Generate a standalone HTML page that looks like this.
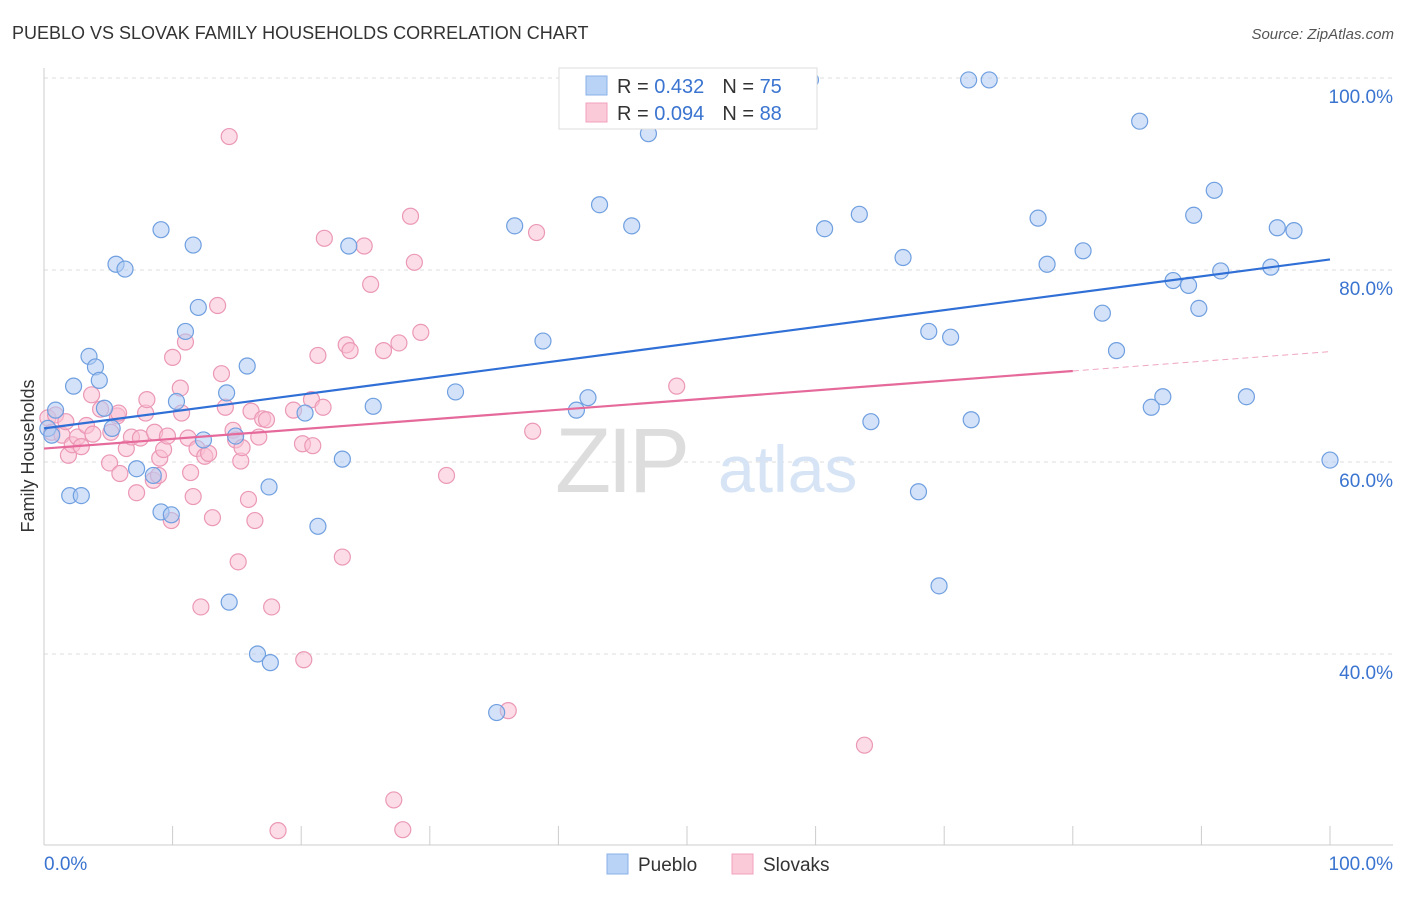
<!DOCTYPE html>
<html><head><meta charset="utf-8"><style>
body{margin:0;background:#fff;font-family:"Liberation Sans",sans-serif;}
svg text{font-family:"Liberation Sans",sans-serif;}
</style></head><body>
<svg id="chart" width="1406" height="892" viewBox="0 0 1406 892" xmlns="http://www.w3.org/2000/svg">
<text x="12" y="39" font-size="18" fill="#333">PUEBLO VS SLOVAK FAMILY HOUSEHOLDS CORRELATION CHART</text>
<text x="1394" y="39" font-size="15" fill="#555" font-style="italic" text-anchor="end">Source: ZipAtlas.com</text>
<g id="grid"></g>
<text x="555" y="492" font-size="92" fill="#ddd" font-family="Liberation Serif" letter-spacing="-4">ZIP</text>
<text x="718" y="492" font-size="66" fill="#d6e4f5">atlas</text>
<g id="axes"></g>
<g id="marks"></g>
<text transform="translate(34,456) rotate(-90)" font-size="18" fill="#333" text-anchor="middle">Family Households</text>
<g>
<rect x="559" y="68" width="258" height="61" fill="#fff" stroke="#ddd"/>
<rect x="586" y="76" width="21" height="19" fill="#b8d3f5" stroke="#8ab2e8"/>
<text x="617" y="93" font-size="20" fill="#333">R = <tspan fill="#3a74d0">0.432</tspan><tspan dx="18">N = </tspan><tspan fill="#3a74d0">75</tspan></text>
<rect x="586" y="103" width="21" height="19" fill="#fbcad9" stroke="#f0a0bc"/>
<text x="617" y="120" font-size="20" fill="#333">R = <tspan fill="#3a74d0">0.094</tspan><tspan dx="18">N = </tspan><tspan fill="#3a74d0">88</tspan></text>
</g>
<g>
<rect x="607" y="854" width="21" height="20" fill="#b8d3f5" stroke="#8ab2e8"/>
<text x="638" y="871" font-size="19" fill="#333">Pueblo</text>
<rect x="732" y="854" width="21" height="20" fill="#fbcad9" stroke="#f0a0bc"/>
<text x="763" y="871" font-size="19" fill="#333">Slovaks</text>
</g>
</svg>
<script>
const puebloX=[0.3,0.9,0.6,2.0,2.9,2.3,3.5,4.0,4.3,4.7,5.3,5.6,6.3,7.2,8.5,9.1,9.1,9.9,10.3,11.0,11.6,12.0,12.4,14.2,14.4,14.9,15.8,16.6,17.6,17.5,20.3,21.3,23.2,23.7,25.6,32.0,35.2,36.6,38.8,41.4,42.3,43.2,45.7,47.0,59.6,60.7,63.4,64.3,66.8,68.0,68.8,69.6,70.5,71.9,72.1,73.5,77.3,78.0,80.8,82.3,83.4,85.2,86.1,87.0,87.8,89.0,89.4,89.8,91.0,91.5,93.5,95.4,95.9,97.2,100.0];
const puebloY=[63.5,65.4,62.8,56.5,56.5,67.9,71.0,69.9,68.5,65.6,63.5,80.6,80.1,59.3,58.6,84.2,54.8,54.5,66.3,73.6,82.6,76.1,62.3,67.2,45.4,62.7,70.0,40.0,39.1,57.4,65.1,53.3,60.3,82.5,65.8,67.3,33.9,84.6,72.6,65.4,66.7,86.8,84.6,94.2,99.8,84.3,85.8,64.2,81.3,56.9,73.6,47.1,73.0,99.8,64.4,99.8,85.4,80.6,82.0,75.5,71.6,95.5,65.7,66.8,78.9,78.4,85.7,76.0,88.3,79.9,66.8,80.3,84.4,84.1,60.2];
const slovakX=[0.3,0.6,0.9,1.4,1.7,1.9,2.2,2.6,2.9,3.3,3.7,3.8,4.4,5.1,5.2,5.7,5.8,5.9,6.4,6.8,7.2,7.5,7.9,8.0,8.5,8.6,8.9,9.0,9.3,9.6,9.9,10.0,10.6,10.7,11.0,11.2,11.4,11.6,11.9,12.2,12.5,12.8,13.1,13.5,13.8,14.1,14.4,14.7,14.9,15.1,15.3,15.4,15.9,16.1,16.4,16.7,17.0,17.3,17.7,18.2,19.4,20.1,20.2,20.8,20.9,21.3,21.7,21.8,23.2,23.5,23.8,24.9,25.4,26.4,27.2,27.6,27.9,28.5,28.8,29.3,31.3,36.1,38.0,38.3,49.2,50.0,51.8,63.8];
const slovakY=[64.6,63.1,64.9,62.8,64.2,60.7,61.8,62.6,61.6,63.8,67.0,62.9,65.5,59.9,63.1,64.8,65.1,58.8,61.4,62.6,56.8,62.5,65.1,66.5,58.1,63.1,58.6,60.4,61.3,62.7,53.9,70.9,67.7,65.1,72.5,62.5,58.9,56.4,61.4,44.9,60.6,60.9,54.2,76.3,69.2,65.7,93.9,63.3,62.3,49.6,60.1,61.5,56.1,65.3,53.9,62.6,64.5,64.4,44.9,21.6,65.4,61.9,39.4,66.5,61.7,71.1,65.7,83.3,50.1,72.2,71.6,82.5,78.5,71.6,24.8,72.4,21.7,85.6,80.8,73.5,58.6,34.1,63.2,83.9,67.9,99.8,99.8,30.5];
const puebloTrend=[63.5,81.1];
const slovakTrend=[61.4,71.5];
const slovakSolidEnd=80;
const yTicks=[100,80,60,40];
const yTickLabels=["100.0%","80.0%","60.0%","40.0%"];
const xTicks=[0,10,20,30,40,50,60,70,80,90,100];

const NS="http://www.w3.org/2000/svg";
const X0=44,X1=1330,YTOP=78,PXPER=9.6;
function sx(v){return X0+(X1-X0)*v/100;}
function sy(v){return YTOP+(100-v)*PXPER;}
function mk(tag,attrs,parent){const e=document.createElementNS(NS,tag);for(const k in attrs)e.setAttribute(k,attrs[k]);parent.appendChild(e);return e;}
const grid=document.getElementById('grid'),axes=document.getElementById('axes'),marks=document.getElementById('marks');
yTicks.forEach((t,i)=>{
  const l=mk('line',{x1:X0,x2:1393,y1:sy(t),y2:sy(t),stroke:'#ddd','stroke-dasharray':'4,4'},grid);
  
  
  const tx=mk('text',{x:1393,y:sy(t)+25,'font-size':19,fill:'#3a74d0','text-anchor':'end'},axes);
  tx.textContent=yTickLabels[i];
  
  
});
let a=mk('line',{x1:X0,x2:X0,y1:68,y2:845,stroke:'#ccc'},axes);


a=mk('line',{x1:X0,x2:1393,y1:845,y2:845,stroke:'#ccc'},axes);


xTicks.forEach(t=>{
  const l=mk('line',{x1:sx(t),x2:sx(t),y1:826,y2:845,stroke:'#ccc'},axes);
  
  
});
let xl=mk('text',{x:X0,y:870,'font-size':19,fill:'#3a74d0'},axes);xl.textContent='0.0%';


xl=mk('text',{x:1393,y:870,'font-size':19,fill:'#3a74d0','text-anchor':'end'},axes);xl.textContent='100.0%';



function pts(xs,ys,fill,stroke,name){
  xs.forEach((x,i)=>{
    const c=mk('circle',{cx:sx(x),cy:sy(ys[i]),r:8,fill:fill,'fill-opacity':0.55,stroke:stroke,'stroke-width':1.2},marks);
    
    
  });
}
pts(slovakX,slovakY,'#f9c0d2','#eb98b6','slovaks-point');
pts(puebloX,puebloY,'#aecbf2','#6f9fe0','pueblo-point');
let tl=mk('line',{x1:sx(0),y1:sy(puebloTrend[0]),x2:sx(100),y2:sy(puebloTrend[1]),stroke:'#2f6fd6','stroke-width':2.2},marks);


const sm=slovakTrend[0]+(slovakTrend[1]-slovakTrend[0])*slovakSolidEnd/100;
tl=mk('line',{x1:sx(0),y1:sy(slovakTrend[0]),x2:sx(slovakSolidEnd),y2:sy(sm),stroke:'#e5699a','stroke-width':2.2},marks);


tl=mk('line',{x1:sx(slovakSolidEnd),y1:sy(sm),x2:sx(100),y2:sy(slovakTrend[1]),stroke:'#e5699a','stroke-width':1,'stroke-dasharray':'6,4','stroke-opacity':0.6},marks);


</script>
</body></html>
